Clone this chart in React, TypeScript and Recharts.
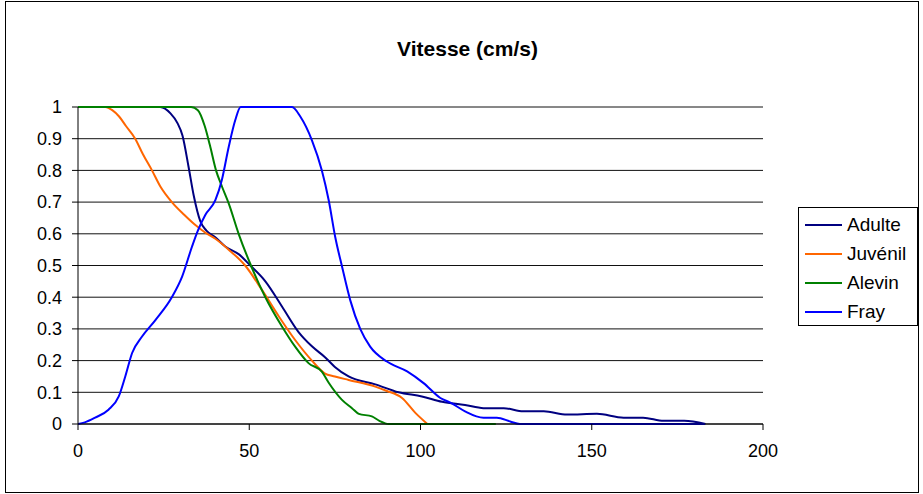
import { LineChart, Line, XAxis, YAxis, CartesianGrid } from "recharts"

// vitesse (cm/s), proportion
const adulte: [number, number][] = [
  [0, 1], [10, 1], [20, 1], [24, 1], [27, 0.98], [29, 0.95], [30.5, 0.91],
  [32.3, 0.81], [33.8, 0.72], [35.7, 0.64], [37.5, 0.61], [40, 0.59],
  [43, 0.56], [47, 0.535], [50.3, 0.5], [54.7, 0.45], [59.6, 0.37],
  [64.4, 0.29], [68.3, 0.245], [72.2, 0.21], [75, 0.18], [79, 0.15],
  [86.8, 0.125], [93.6, 0.1], [100.4, 0.087], [106.3, 0.07], [113, 0.06],
  [118.4, 0.05], [124.3, 0.05], [130, 0.04], [136, 0.04], [142.8, 0.03],
  [151.5, 0.032], [159.3, 0.02], [165, 0.02], [171, 0.01], [177, 0.01],
  [183.2, 0],
]

const juvenil: [number, number][] = [
  [0, 1], [5, 1], [8, 1], [10, 0.99], [12, 0.97], [14, 0.94], [16.7, 0.9],
  [19, 0.85], [21.6, 0.8], [24, 0.75], [27.4, 0.7], [31, 0.66], [34, 0.63],
  [37, 0.605], [40, 0.585], [44, 0.55], [48.8, 0.5], [53.7, 0.423],
  [58.6, 0.34], [63.4, 0.265], [68.3, 0.2], [72, 0.16], [75, 0.15],
  [79, 0.139], [86.8, 0.118], [90, 0.105], [94.6, 0.082], [98.5, 0.035],
  [102, 0],
]

const alevin: [number, number][] = [
  [0, 1], [10, 1], [20, 1], [30, 1], [33, 1], [35, 0.99], [37, 0.94],
  [38.5, 0.88], [40.3, 0.8], [42, 0.75], [44, 0.696], [46.9, 0.6],
  [50.5, 0.5], [54.7, 0.4], [59.6, 0.307], [63.4, 0.244], [67.3, 0.192],
  [71.2, 0.165], [73.2, 0.13], [77, 0.077], [80, 0.05], [82, 0.032],
  [85.8, 0.024], [88, 0.01], [90.7, 0], [100, 0], [110, 0], [122, 0],
]

const fray: [number, number][] = [
  [0, 0], [2, 0.005], [5, 0.02], [8.9, 0.045], [11.9, 0.087], [13.8, 0.15],
  [15.8, 0.224], [18.7, 0.276], [22.6, 0.328], [27.4, 0.4], [30.4, 0.465],
  [33.3, 0.56], [35, 0.61], [37.2, 0.66], [40.1, 0.706], [42, 0.77],
  [44, 0.874], [45.9, 0.958], [47.5, 1], [55, 1], [62.5, 1], [64.9, 0.97],
  [68.3, 0.895], [71.2, 0.8], [73.2, 0.706], [75.1, 0.59], [77.1, 0.496],
  [79.5, 0.39], [82.4, 0.3], [85.3, 0.244], [90.2, 0.197], [96.1, 0.166],
  [100.9, 0.129], [105.8, 0.082], [109, 0.066], [113, 0.04], [118.4, 0.02],
  [122.3, 0.02], [126.2, 0.008], [129, 0], [140, 0], [160, 0], [183, 0],
]

const xTicks = [0, 50, 100, 150, 200]
const yTicks = [0, 0.1, 0.2, 0.3, 0.4, 0.5, 0.6, 0.7, 0.8, 0.9, 1]

const series = [
  { name: "Adulte", points: adulte, color: "#000080" },
  { name: "Juvénil", points: juvenil, color: "#FF6600" },
  { name: "Alevin", points: alevin, color: "#008000" },
  { name: "Fray", points: fray, color: "#0000FF" },
]

const font = "'Liberation Sans', Arial, sans-serif"

function toRows(points: [number, number][]) {
  return points.map(([x, y]) => ({ x, y }))
}

function LegendBox() {
  return (
    <div
      style={{
        position: "absolute",
        left: 798,
        top: 207,
        width: 120,
        height: 119,
        border: "1px solid #000",
        background: "#fff",
        padding: "2px 0 0 6px",
        fontFamily: font,
        fontSize: 19,
        boxSizing: "border-box",
      }}
    >
      {series.map((s) => (
        <div
          key={s.name}
          style={{ display: "flex", alignItems: "center", height: 29 }}
        >
          <span
            style={{
              display: "inline-block",
              width: 37,
              height: 2,
              background: s.color,
              marginRight: 5,
            }}
          />
          <span>{s.name}</span>
        </div>
      ))}
    </div>
  )
}

export default function App() {
  return (
    <div
      style={{
        position: "absolute",
        left: 0,
        top: 0,
        width: 923,
        height: 494,
        background: "#fff",
      }}
    >
      <div
        style={{
          position: "absolute",
          left: 5,
          top: 1,
          width: 912,
          height: 490,
          border: "1px solid #000",
        }}
      />
      <div
        style={{
          position: "absolute",
          left: 0,
          top: 37,
          width: 935,
          textAlign: "center",
          fontFamily: font,
          fontWeight: "bold",
          fontSize: 21,
        }}
      >
        Vitesse (cm/s)
      </div>
      <div style={{ position: "absolute", left: 0, top: 0 }}>
        <LineChart
          width={923}
          height={494}
          margin={{ top: 107, right: 160, left: 18, bottom: 40 }}
        >
          <CartesianGrid
            yAxisId="left"
            vertical={false}
            stroke="#111"
            horizontalValues={yTicks}
          />
          <XAxis
            type="number"
            dataKey="x"
            domain={[0, 200]}
            ticks={xTicks}
            allowDataOverflow
            stroke="#000"
            tickSize={6}
            tickMargin={14}
            height={30}
            tick={{ fill: "#000", fontSize: 18, fontFamily: font }}
          />
          <YAxis
            yAxisId="left"
            type="number"
            domain={[0, 1]}
            ticks={yTicks}
            stroke="#000"
            tickSize={6}
            tickMargin={10}
            width={60}
            tick={{ fill: "#000", fontSize: 18, fontFamily: font }}
          />
          <YAxis
            yAxisId="right"
            orientation="right"
            domain={[0, 1]}
            stroke="#808080"
            tick={false}
            tickLine={false}
            width={0}
          />
          {series.map((s) => (
            <Line
              key={s.name}
              yAxisId="left"
              name={s.name}
              data={toRows(s.points)}
              dataKey="y"
              type="monotone"
              stroke={s.color}
              strokeWidth={2}
              dot={false}
              isAnimationActive={false}
            />
          ))}
        </LineChart>
      </div>
      <LegendBox />
    </div>
  )
}
